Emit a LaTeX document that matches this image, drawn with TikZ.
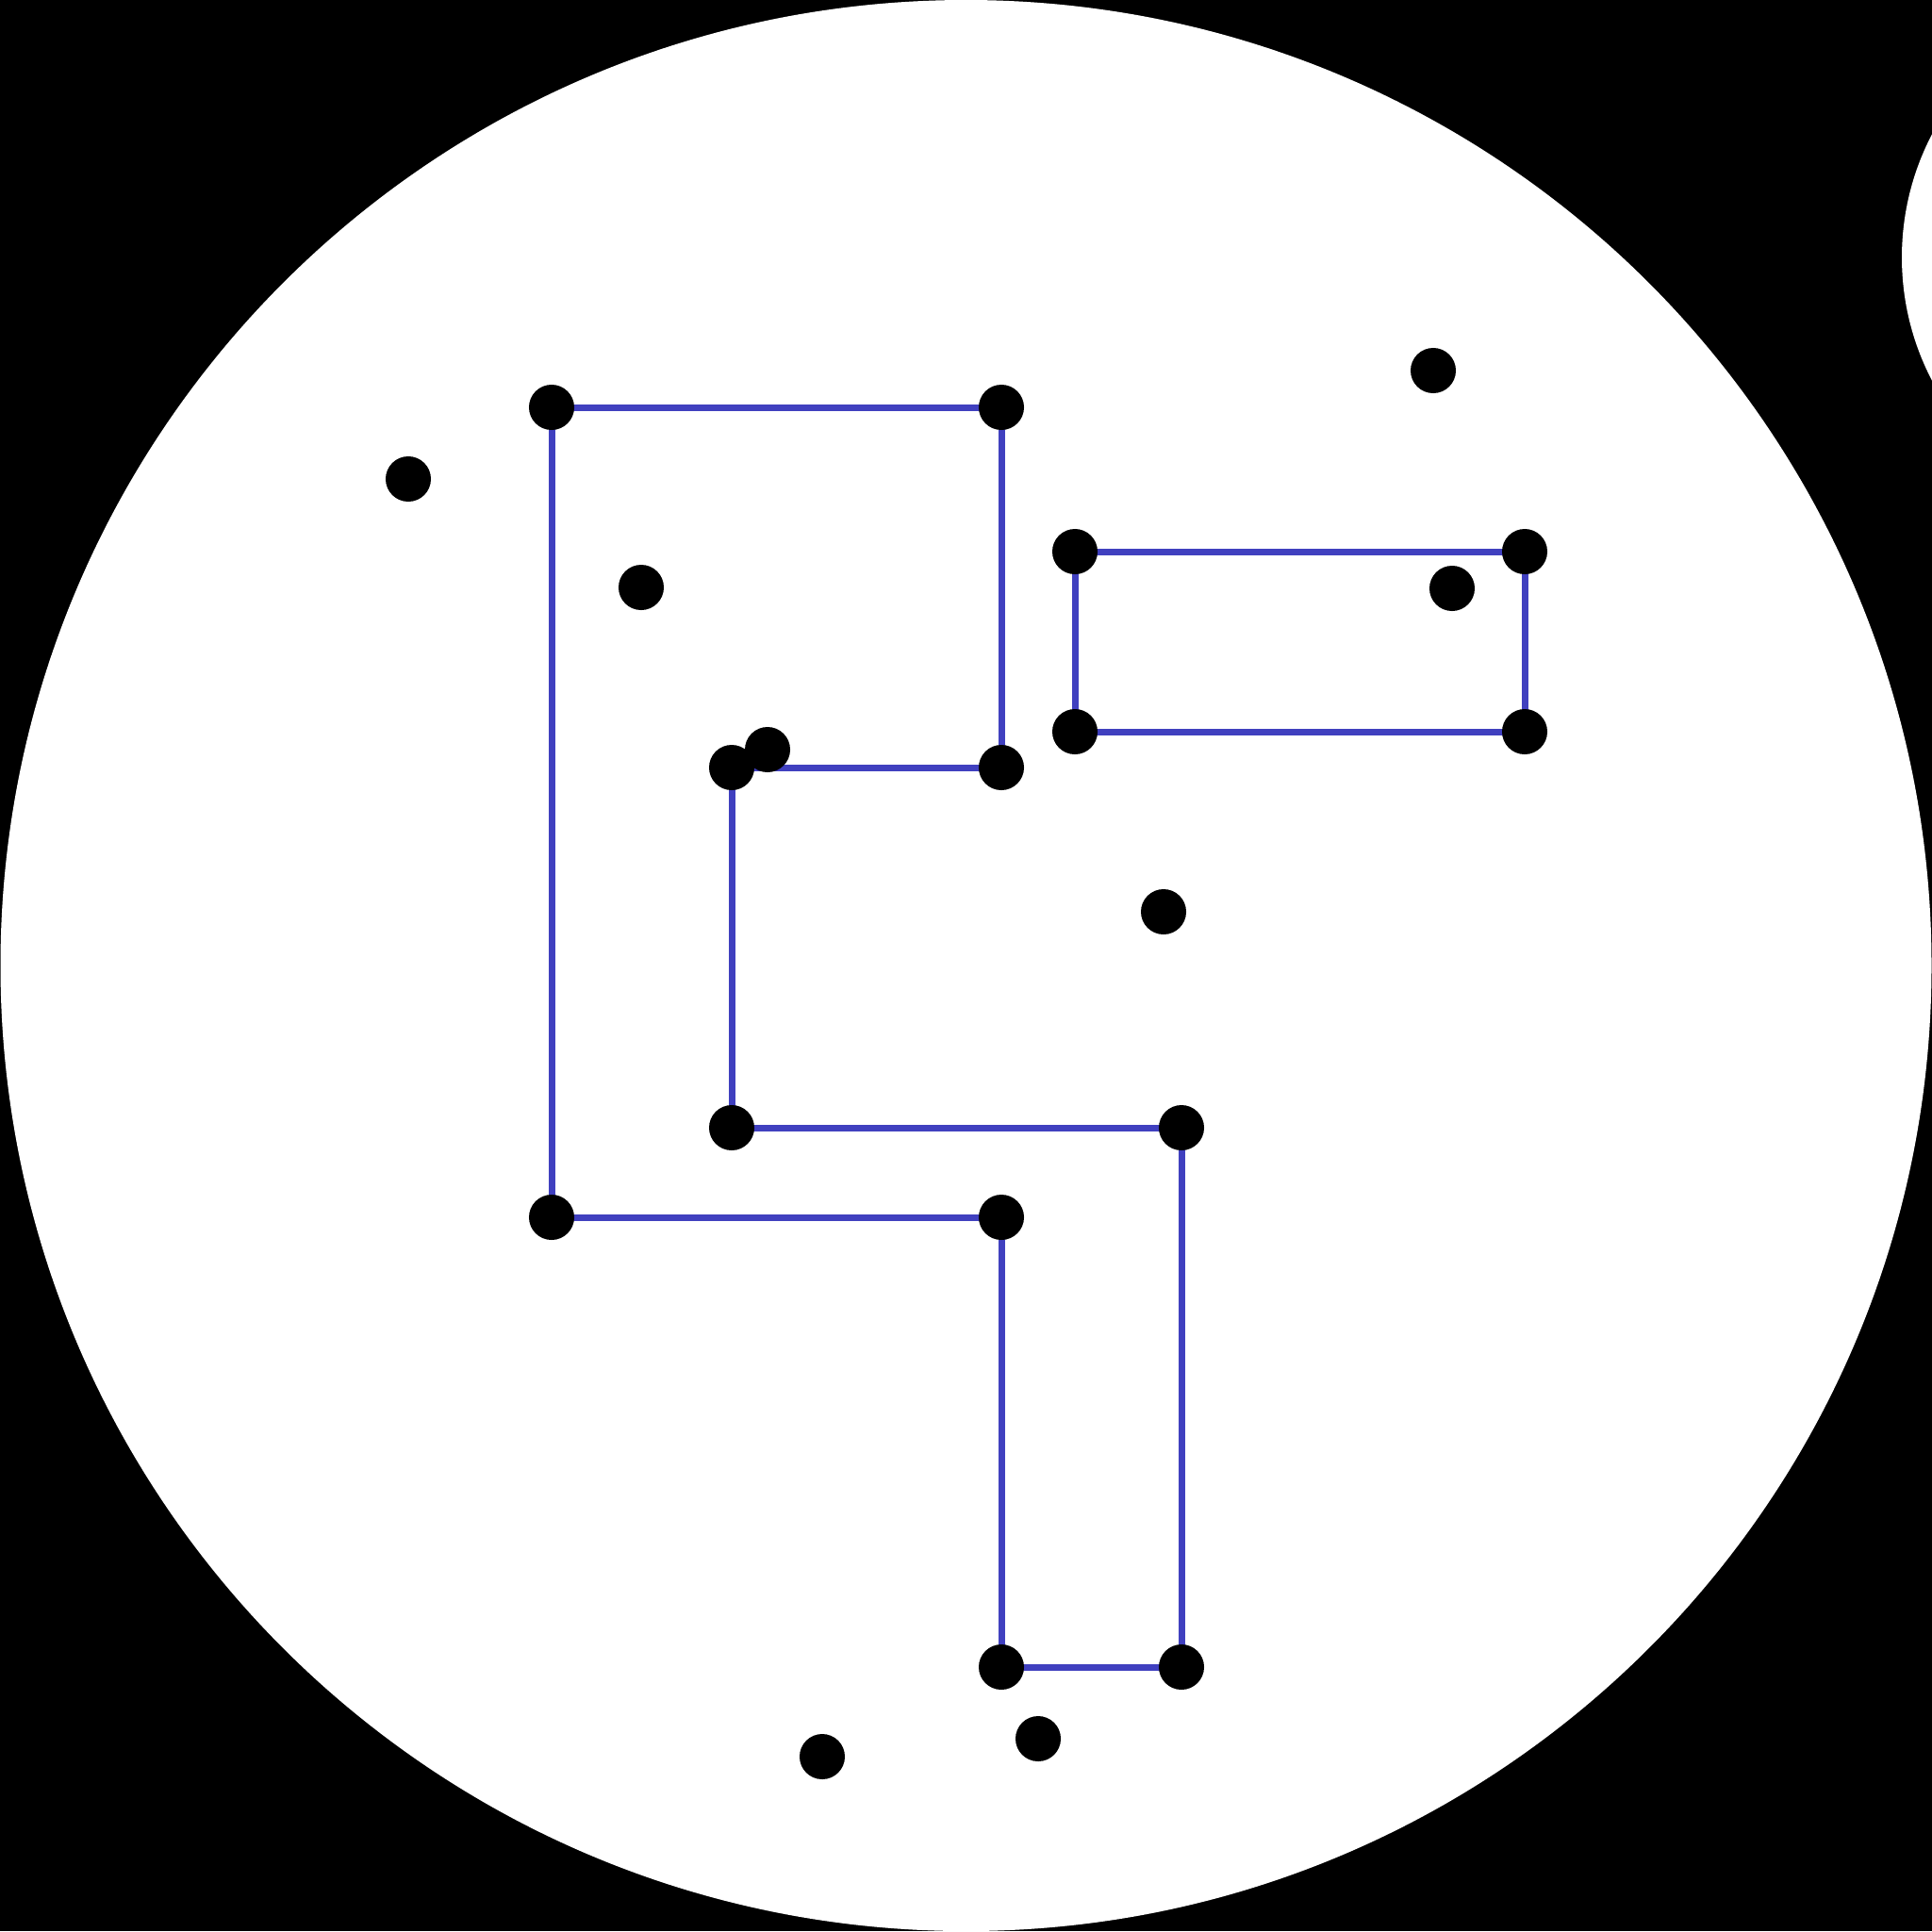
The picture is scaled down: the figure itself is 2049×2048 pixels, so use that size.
\documentclass[tikz,border=0pt]{standalone}
\usetikzlibrary{backgrounds}
\definecolor{edgeblue}{HTML}{4040BF}
\begin{document}
\begin{tikzpicture}[x=0.01cm,y=-0.01cm,
  dot/.style={circle,fill=black,draw=none,inner sep=0pt,minimum size=0.48cm},
  link/.style={draw=edgeblue,line width=0.07cm}]
\useasboundingbox (0,0) rectangle (2049,2048);
\node[dot] (A) at (585,432) {};
\node[dot] (B) at (1062,432) {};
\node[dot] (C) at (433,508) {};
\node[dot] (D) at (680,623) {};
\node[dot] (E) at (1140,585) {};
\node[dot] (F) at (1617,585) {};
\node[dot] (G) at (1520,393) {};
\node[dot] (H) at (1540,624) {};
\node[dot] (I) at (1140,776) {};
\node[dot] (J) at (1617,776) {};
\node[dot] (K) at (776,814) {};
\node[dot] (L) at (814,795) {};
\node[dot] (M) at (1062,814) {};
\node[dot] (N) at (1234,967) {};
\node[dot] (O) at (776,1196) {};
\node[dot] (P) at (1253,1196) {};
\node[dot] (Q) at (585,1291) {};
\node[dot] (R) at (1062,1291) {};
\node[dot] (S) at (1062,1768) {};
\node[dot] (T) at (1253,1768) {};
\node[dot] (U) at (872,1863) {};
\node[dot] (V) at (1101,1844) {};
\begin{pgfonlayer}{background}
  \fill[black] (0,0) rectangle (2049,2048);
  \begin{scope}
    \clip (0,0) rectangle (2049,2048);
    \fill[white] (1024.5,1024) circle[radius=1024];
    \fill[white] (2299,273) circle[radius=282];
  \end{scope}
  \draw[link] (A.center) -- (B.center);
  \draw[link] (A.center) -- (Q.center);
  \draw[link] (B.center) -- (M.center);
  \draw[link] (K.center) -- (M.center);
  \draw[link] (K.center) -- (O.center);
  \draw[link] (O.center) -- (P.center);
  \draw[link] (P.center) -- (T.center);
  \draw[link] (Q.center) -- (R.center);
  \draw[link] (R.center) -- (S.center);
  \draw[link] (S.center) -- (T.center);
  \draw[link] (E.center) -- (F.center);
  \draw[link] (F.center) -- (J.center);
  \draw[link] (J.center) -- (I.center);
  \draw[link] (I.center) -- (E.center);
\end{pgfonlayer}
\end{tikzpicture}
\end{document}
